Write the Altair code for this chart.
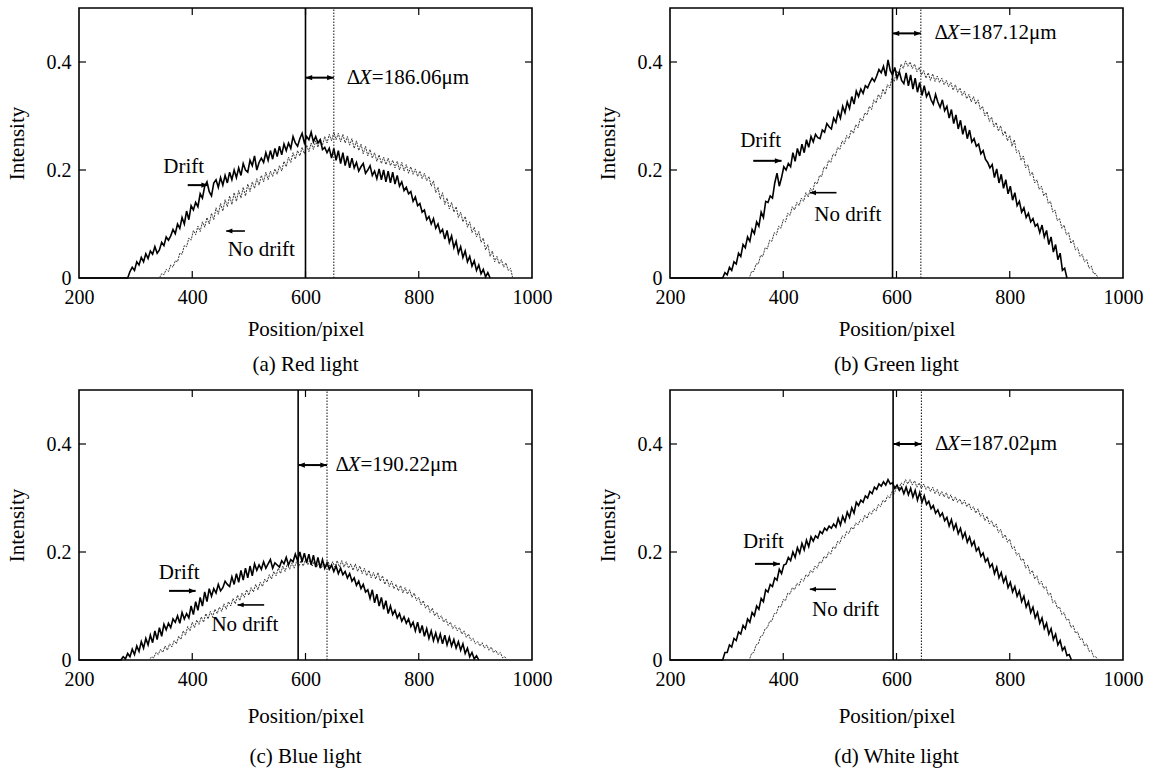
import altair as alt
import pandas as pd

FONT = "Liberation Serif"
STEP = 4

# ---------------- (a) Red light ----------------
DRIFT_A_START = 286
DRIFT_A = [0, 0.012, 0.02, 0.014, 0.03, 0.024, 0.038, 0.03, 0.045, 0.036,
           0.05, 0.044, 0.058, 0.046, 0.052, 0.066, 0.06, 0.076, 0.07, 0.078,
           0.09, 0.082, 0.1, 0.092, 0.112, 0.1, 0.124, 0.108, 0.134, 0.126,
           0.14, 0.132, 0.156, 0.148, 0.17, 0.178, 0.16, 0.152, 0.176, 0.182,
           0.168, 0.186, 0.172, 0.19, 0.176, 0.196, 0.182, 0.2, 0.186, 0.204,
           0.19, 0.212, 0.2, 0.196, 0.218, 0.208, 0.226, 0.2, 0.214, 0.222,
           0.214, 0.232, 0.218, 0.236, 0.22, 0.24, 0.225, 0.244, 0.228, 0.248,
           0.236, 0.25, 0.24, 0.262, 0.25, 0.244, 0.258, 0.268, 0.25, 0.262,
           0.256, 0.27, 0.252, 0.262, 0.25, 0.256, 0.238, 0.242, 0.232, 0.24,
           0.222, 0.24, 0.218, 0.236, 0.212, 0.232, 0.208, 0.226, 0.204, 0.222,
           0.204, 0.214, 0.198, 0.206, 0.212, 0.194, 0.2, 0.208, 0.19, 0.198,
           0.184, 0.202, 0.182, 0.2, 0.178, 0.198, 0.176, 0.196, 0.174, 0.19,
           0.17, 0.178, 0.162, 0.168, 0.156, 0.16, 0.142, 0.15, 0.134, 0.138,
           0.122, 0.126, 0.108, 0.114, 0.1, 0.11, 0.092, 0.1, 0.084, 0.09,
           0.072, 0.088, 0.066, 0.078, 0.056, 0.068, 0.046, 0.058, 0.038, 0.05,
           0.03, 0.04, 0.022, 0.032, 0.014, 0.024, 0.008, 0.016, 0.002, 0.01,
           0]
NODRIFT_A_START = 342
NODRIFT_A = [0, 0.008, 0.006, 0.016, 0.012, 0.024, 0.02, 0.032, 0.03, 0.046,
             0.044, 0.06, 0.058, 0.074, 0.07, 0.088, 0.08, 0.096, 0.086, 0.104,
             0.094, 0.112, 0.1, 0.12, 0.108, 0.13, 0.118, 0.138, 0.124, 0.145,
             0.132, 0.152, 0.136, 0.158, 0.142, 0.162, 0.148, 0.168, 0.152, 0.174,
             0.16, 0.178, 0.166, 0.184, 0.172, 0.19, 0.178, 0.196, 0.182, 0.198,
             0.188, 0.202, 0.192, 0.208, 0.198, 0.216, 0.206, 0.224, 0.214, 0.232,
             0.22, 0.236, 0.226, 0.242, 0.23, 0.246, 0.234, 0.25, 0.238, 0.254,
             0.242, 0.258, 0.246, 0.262, 0.25, 0.266, 0.254, 0.27, 0.256, 0.268,
             0.252, 0.266, 0.25, 0.262, 0.246, 0.258, 0.24, 0.254, 0.236, 0.248,
             0.23, 0.244, 0.226, 0.238, 0.222, 0.232, 0.216, 0.228, 0.212, 0.224,
             0.21, 0.222, 0.208, 0.218, 0.204, 0.216, 0.2, 0.214, 0.198, 0.21,
             0.194, 0.206, 0.192, 0.202, 0.188, 0.198, 0.184, 0.194, 0.18, 0.188,
             0.17, 0.18, 0.158, 0.168, 0.146, 0.158, 0.136, 0.148, 0.128, 0.14,
             0.122, 0.132, 0.112, 0.122, 0.104, 0.114, 0.094, 0.104, 0.084, 0.094,
             0.076, 0.086, 0.066, 0.074, 0.052, 0.062, 0.04, 0.05, 0.03, 0.04,
             0.026, 0.034, 0.02, 0.028, 0.014, 0.018, 0]

# ---------------- (b) Green light ----------------
DRIFT_B_START = 293
DRIFT_B = [0, 0.01, 0.006, 0.02, 0.014, 0.03, 0.026, 0.046, 0.04, 0.062,
           0.056, 0.076, 0.068, 0.09, 0.082, 0.104, 0.096, 0.122, 0.112, 0.142,
           0.14, 0.152, 0.148, 0.176, 0.194, 0.17, 0.186, 0.206, 0.2, 0.212,
           0.206, 0.232, 0.216, 0.24, 0.226, 0.248, 0.232, 0.256, 0.242, 0.262,
           0.252, 0.266, 0.26, 0.258, 0.274, 0.27, 0.286, 0.28, 0.276, 0.296,
           0.288, 0.308, 0.296, 0.318, 0.306, 0.326, 0.314, 0.336, 0.322, 0.346,
           0.336, 0.35, 0.342, 0.356, 0.352, 0.362, 0.37, 0.364, 0.374, 0.386,
           0.38, 0.392, 0.374, 0.404, 0.384, 0.376, 0.39, 0.37, 0.382, 0.366,
           0.36, 0.38, 0.356, 0.376, 0.35, 0.37, 0.344, 0.362, 0.338, 0.356,
           0.336, 0.344, 0.33, 0.322, 0.34, 0.326, 0.316, 0.33, 0.31, 0.318,
           0.296, 0.312, 0.286, 0.302, 0.276, 0.292, 0.266, 0.282, 0.258, 0.274,
           0.252, 0.258, 0.244, 0.248, 0.23, 0.236, 0.22, 0.214, 0.204, 0.21,
           0.186, 0.202, 0.176, 0.192, 0.166, 0.182, 0.156, 0.17, 0.144, 0.158,
           0.134, 0.142, 0.122, 0.13, 0.112, 0.12, 0.104, 0.11, 0.096, 0.1,
           0.084, 0.098, 0.076, 0.088, 0.062, 0.076, 0.048, 0.062, 0.034, 0.046,
           0.014, 0.018, 0]
NODRIFT_B_START = 340
NODRIFT_B = [0, 0.012, 0.012, 0.026, 0.026, 0.042, 0.04, 0.056, 0.054, 0.07,
             0.068, 0.084, 0.08, 0.096, 0.092, 0.108, 0.104, 0.12, 0.116, 0.132,
             0.126, 0.14, 0.134, 0.148, 0.142, 0.158, 0.15, 0.166, 0.16, 0.178,
             0.174, 0.19, 0.188, 0.206, 0.202, 0.218, 0.214, 0.23, 0.226, 0.242,
             0.238, 0.254, 0.248, 0.264, 0.258, 0.274, 0.268, 0.284, 0.278, 0.296,
             0.29, 0.306, 0.302, 0.318, 0.312, 0.33, 0.324, 0.34, 0.332, 0.35,
             0.34, 0.358, 0.352, 0.37, 0.364, 0.384, 0.376, 0.396, 0.388, 0.402,
             0.392, 0.4, 0.388, 0.396, 0.382, 0.39, 0.376, 0.384, 0.37, 0.38,
             0.366, 0.378, 0.364, 0.374, 0.362, 0.37, 0.358, 0.366, 0.354, 0.362,
             0.348, 0.358, 0.344, 0.352, 0.338, 0.346, 0.332, 0.34, 0.326, 0.336,
             0.322, 0.33, 0.312, 0.318, 0.3, 0.308, 0.29, 0.298, 0.28, 0.288,
             0.272, 0.282, 0.264, 0.272, 0.254, 0.264, 0.244, 0.256, 0.232, 0.236,
             0.218, 0.226, 0.204, 0.21, 0.19, 0.196, 0.176, 0.182, 0.164, 0.17,
             0.152, 0.158, 0.138, 0.142, 0.122, 0.126, 0.106, 0.11, 0.092, 0.098,
             0.08, 0.084, 0.064, 0.07, 0.052, 0.056, 0.04, 0.044, 0.03, 0.034,
             0.018, 0.022, 0.008, 0.008, 0]

# ---------------- (c) Blue light ----------------
DRIFT_C_START = 274
DRIFT_C = [0, 0.006, 0.002, 0.012, 0.006, 0.02, 0.01, 0.026, 0.016, 0.034,
           0.022, 0.04, 0.028, 0.046, 0.032, 0.054, 0.038, 0.06, 0.044, 0.066,
           0.056, 0.068, 0.06, 0.076, 0.07, 0.082, 0.068, 0.088, 0.076, 0.086,
           0.078, 0.1, 0.084, 0.108, 0.092, 0.116, 0.1, 0.126, 0.108, 0.132,
           0.118, 0.132, 0.124, 0.14, 0.128, 0.134, 0.146, 0.14, 0.136, 0.154,
           0.14, 0.16, 0.144, 0.166, 0.148, 0.17, 0.152, 0.174, 0.156, 0.178,
           0.166, 0.176, 0.168, 0.182, 0.17, 0.178, 0.186, 0.17, 0.18, 0.176,
           0.172, 0.184, 0.178, 0.19, 0.176, 0.186, 0.182, 0.196, 0.184, 0.2,
           0.182, 0.198, 0.18, 0.196, 0.176, 0.194, 0.172, 0.19, 0.17, 0.186,
           0.17, 0.18, 0.168, 0.176, 0.164, 0.174, 0.16, 0.17, 0.158, 0.164,
           0.152, 0.16, 0.146, 0.152, 0.138, 0.146, 0.132, 0.14, 0.126, 0.13,
           0.114, 0.13, 0.106, 0.122, 0.1, 0.116, 0.094, 0.11, 0.086, 0.1,
           0.084, 0.092, 0.078, 0.086, 0.072, 0.08, 0.068, 0.076, 0.062, 0.07,
           0.054, 0.07, 0.05, 0.064, 0.044, 0.058, 0.04, 0.054, 0.036, 0.05,
           0.034, 0.048, 0.03, 0.046, 0.028, 0.042, 0.026, 0.038, 0.022, 0.034,
           0.018, 0.03, 0.012, 0.022, 0.006, 0.014, 0.002, 0.008, 0]
NODRIFT_C_START = 324
NODRIFT_C = [0, 0.006, 0.004, 0.014, 0.01, 0.02, 0.014, 0.026, 0.018, 0.03,
             0.024, 0.036, 0.03, 0.044, 0.038, 0.054, 0.046, 0.062, 0.054, 0.07,
             0.06, 0.074, 0.066, 0.08, 0.07, 0.086, 0.076, 0.09, 0.08, 0.094,
             0.086, 0.098, 0.09, 0.104, 0.094, 0.108, 0.1, 0.114, 0.104, 0.12,
             0.11, 0.124, 0.116, 0.13, 0.12, 0.134, 0.126, 0.14, 0.13, 0.144,
             0.136, 0.15, 0.144, 0.158, 0.15, 0.164, 0.156, 0.17, 0.16, 0.174,
             0.164, 0.178, 0.168, 0.18, 0.17, 0.182, 0.172, 0.184, 0.174, 0.186,
             0.176, 0.186, 0.174, 0.184, 0.172, 0.182, 0.17, 0.18, 0.17, 0.182,
             0.17, 0.182, 0.172, 0.184, 0.172, 0.184, 0.172, 0.182, 0.17, 0.178,
             0.166, 0.178, 0.164, 0.174, 0.16, 0.17, 0.156, 0.166, 0.152, 0.162,
             0.15, 0.162, 0.146, 0.156, 0.14, 0.15, 0.136, 0.146, 0.132, 0.14,
             0.128, 0.138, 0.124, 0.134, 0.122, 0.13, 0.116, 0.124, 0.11, 0.116,
             0.102, 0.11, 0.096, 0.102, 0.088, 0.096, 0.082, 0.088, 0.076, 0.082,
             0.07, 0.076, 0.064, 0.07, 0.058, 0.064, 0.054, 0.06, 0.048, 0.054,
             0.042, 0.048, 0.036, 0.04, 0.03, 0.034, 0.026, 0.032, 0.022, 0.028,
             0.018, 0.024, 0.014, 0.018, 0.01, 0.014, 0.004, 0.006, 0]

# ---------------- (d) White light ----------------
DRIFT_D_START = 293
DRIFT_D = [0, 0.014, 0.014, 0.028, 0.024, 0.04, 0.036, 0.052, 0.048, 0.064,
           0.058, 0.076, 0.07, 0.088, 0.082, 0.1, 0.094, 0.114, 0.108, 0.13,
           0.126, 0.14, 0.136, 0.152, 0.148, 0.168, 0.16, 0.176, 0.178, 0.19,
           0.184, 0.2, 0.19, 0.208, 0.198, 0.216, 0.204, 0.222, 0.21, 0.228,
           0.22, 0.23, 0.226, 0.238, 0.234, 0.244, 0.24, 0.248, 0.244, 0.252,
           0.246, 0.262, 0.25, 0.266, 0.256, 0.274, 0.264, 0.282, 0.272, 0.292,
           0.286, 0.296, 0.292, 0.304, 0.3, 0.312, 0.308, 0.32, 0.316, 0.326,
           0.322, 0.33, 0.324, 0.334, 0.326, 0.328, 0.318, 0.324, 0.314, 0.32,
           0.308, 0.32, 0.306, 0.318, 0.302, 0.314, 0.296, 0.31, 0.292, 0.304,
           0.288, 0.294, 0.28, 0.286, 0.272, 0.278, 0.266, 0.272, 0.258, 0.264,
           0.248, 0.26, 0.242, 0.252, 0.234, 0.244, 0.226, 0.236, 0.218, 0.228,
           0.212, 0.22, 0.202, 0.208, 0.192, 0.198, 0.182, 0.188, 0.172, 0.178,
           0.16, 0.172, 0.152, 0.162, 0.144, 0.154, 0.134, 0.144, 0.126, 0.136,
           0.118, 0.128, 0.108, 0.118, 0.098, 0.108, 0.088, 0.098, 0.078, 0.088,
           0.068, 0.078, 0.058, 0.068, 0.048, 0.058, 0.038, 0.048, 0.028, 0.036,
           0.018, 0.024, 0.008, 0.01, 0]
NODRIFT_D_START = 340
NODRIFT_D = [0, 0.012, 0.014, 0.028, 0.03, 0.044, 0.046, 0.058, 0.06, 0.072,
             0.072, 0.086, 0.086, 0.1, 0.098, 0.112, 0.11, 0.124, 0.122, 0.134,
             0.13, 0.142, 0.138, 0.15, 0.146, 0.158, 0.154, 0.166, 0.162, 0.174,
             0.17, 0.182, 0.18, 0.192, 0.188, 0.2, 0.196, 0.21, 0.206, 0.22,
             0.216, 0.23, 0.226, 0.238, 0.234, 0.246, 0.242, 0.254, 0.25, 0.26,
             0.256, 0.268, 0.262, 0.274, 0.27, 0.28, 0.276, 0.288, 0.284, 0.296,
             0.292, 0.304, 0.3, 0.312, 0.308, 0.32, 0.316, 0.328, 0.324, 0.334,
             0.326, 0.334, 0.324, 0.332, 0.32, 0.328, 0.318, 0.326, 0.316, 0.322,
             0.312, 0.32, 0.308, 0.316, 0.304, 0.312, 0.302, 0.31, 0.298, 0.306,
             0.294, 0.302, 0.292, 0.298, 0.288, 0.296, 0.284, 0.29, 0.278, 0.284,
             0.272, 0.28, 0.266, 0.272, 0.258, 0.266, 0.252, 0.258, 0.246, 0.252,
             0.236, 0.242, 0.226, 0.232, 0.218, 0.224, 0.206, 0.21, 0.194, 0.198,
             0.184, 0.188, 0.17, 0.176, 0.16, 0.166, 0.15, 0.156, 0.14, 0.146,
             0.132, 0.136, 0.12, 0.124, 0.106, 0.11, 0.096, 0.098, 0.084, 0.088,
             0.074, 0.076, 0.06, 0.064, 0.05, 0.052, 0.038, 0.04, 0.026, 0.03,
             0.016, 0.018, 0.006, 0.006, 0]

# peaks (pixel) of the drift / no-drift profiles
PEAKS_DRIFT = [600, 593, 587, 594]
PEAKS_NODRIFT = [650, 643, 638, 644]
DELTA_TEXT = ["=186.06μm", "=187.12μm", "=190.22μm", "=187.02μm"]
DELTA_POS = [(673, 0.371), (667, 0.453), (653, 0.361), (668, 0.400)]
DRIFT_LABEL = [(385, 0.206), (360, 0.253), (377, 0.162), (365, 0.219)]
DRIFT_ARROW = [(392, 428, 0.172), (347, 397, 0.217), (359, 406, 0.128), (350, 394, 0.178)]
NODRIFT_LABEL = [(522, 0.051), (514, 0.116), (493, 0.064), (510, 0.093)]
NODRIFT_ARROW = [(493, 460, 0.087), (494, 447, 0.158), (527, 480, 0.102), (493, 447, 0.131)]
SUBTITLES = ["(a) Red light", "(b) Green light", "(c) Blue light", "(d) White light"]

X_TICKS = [200, 400, 600, 800, 1000]
Y_TICKS = [0, 0.2, 0.4]
INNER_X = [400, 600, 800]
INNER_Y = [0.2, 0.4]

W, H = 453, 270
TICK = 7
RIGHT_HEAD = "M0,0L-1,-0.4L-1,0.4Z"
LEFT_HEAD = "M0,0L1,-0.4L1,0.4Z"


def profile(start, vals):
    xs = [200] + [start + STEP * i for i in range(len(vals))]
    ys = [0.0] + list(vals)
    return pd.DataFrame({"x": xs, "y": ys})


def make_panel(i, drift_start, drift, nd_start, nd, xtitle_pad, sub_offset):
    xs = alt.Scale(domain=[200, 1000], nice=False, zero=False)
    ys = alt.Scale(domain=[0, 0.5], nice=False)
    xax = alt.Axis(values=X_TICKS, title="Position/pixel", labelFlush=False, labelPadding=9,
                   titlePadding=xtitle_pad, format="d")
    yax = alt.Axis(values=Y_TICKS, title="Intensity", labelPadding=8, titlePadding=19,
                   labelExpr="datum.value == 0 ? '0' : format(datum.value, '.1f')")
    X = alt.X("x:Q", scale=xs, axis=xax)
    Y = alt.Y("y:Q", scale=ys, axis=yax)

    layers = []
    layers.append(alt.Chart(profile(nd_start, nd)).mark_line(
        color="#3a3a3a", strokeWidth=1.0, strokeDash=[2, 1]).encode(x=X, y=Y))
    layers.append(alt.Chart(profile(drift_start, drift)).mark_line(
        color="black", strokeWidth=1.6).encode(x=X, y=Y))

    pd_, pn = PEAKS_DRIFT[i], PEAKS_NODRIFT[i]
    vl = pd.DataFrame({"x": [pd_], "y": [0.0], "y2": [0.5]})
    layers.append(alt.Chart(vl).mark_rule(color="black", strokeWidth=1.6).encode(x=X, y=Y, y2="y2:Q"))
    vl2 = pd.DataFrame({"x": [pn], "y": [0.0], "y2": [0.5]})
    layers.append(alt.Chart(vl2).mark_rule(color="#222", strokeWidth=1.1, strokeDash=[1.5, 1.5]).encode(
        x=X, y=Y, y2="y2:Q"))

    # double-headed arrow between peaks
    tx, ty = DELTA_POS[i]
    da = pd.DataFrame({"x": [pd_], "x2": [pn], "y": [ty]})
    layers.append(alt.Chart(da).mark_rule(color="black", strokeWidth=2).encode(x=X, x2="x2:Q", y=Y))
    layers.append(alt.Chart(pd.DataFrame({"x": [pd_], "y": [ty]})).mark_point(
        shape=LEFT_HEAD, filled=True, color="black", size=180, opacity=1, strokeWidth=0).encode(x=X, y=Y))
    layers.append(alt.Chart(pd.DataFrame({"x": [pn], "y": [ty]})).mark_point(
        shape=RIGHT_HEAD, filled=True, color="black", size=180, opacity=1, strokeWidth=0).encode(x=X, y=Y))

    tdf = pd.DataFrame({"x": [tx], "y": [ty]})
    layers.append(alt.Chart(tdf).mark_text(text="Δ", align="left", baseline="middle", font=FONT,
                                           fontSize=21, color="black").encode(x=X, y=Y))
    layers.append(alt.Chart(tdf).mark_text(text="X", align="left", baseline="middle", font=FONT,
                                           fontSize=21, fontStyle="italic", dx=12, color="black").encode(x=X, y=Y))
    layers.append(alt.Chart(tdf).mark_text(text=DELTA_TEXT[i], align="left", baseline="middle", font=FONT,
                                           fontSize=21, dx=25, color="black").encode(x=X, y=Y))

    # Drift label and arrow
    lx, ly = DRIFT_LABEL[i]
    layers.append(alt.Chart(pd.DataFrame({"x": [lx], "y": [ly]})).mark_text(
        text="Drift", align="center", baseline="middle", font=FONT, fontSize=21, color="black").encode(x=X, y=Y))
    a0, a1, ay = DRIFT_ARROW[i]
    layers.append(alt.Chart(pd.DataFrame({"x": [a0], "x2": [a1], "y": [ay]})).mark_rule(
        color="black", strokeWidth=2).encode(x=X, x2="x2:Q", y=Y))
    layers.append(alt.Chart(pd.DataFrame({"x": [a1], "y": [ay]})).mark_point(
        shape=RIGHT_HEAD, filled=True, color="black", size=180, opacity=1, strokeWidth=0).encode(x=X, y=Y))

    # No drift label and arrow
    nx, ny = NODRIFT_LABEL[i]
    layers.append(alt.Chart(pd.DataFrame({"x": [nx], "y": [ny]})).mark_text(
        text="No drift", align="center", baseline="middle", font=FONT, fontSize=21, color="black").encode(x=X, y=Y))
    b0, b1, by = NODRIFT_ARROW[i]
    layers.append(alt.Chart(pd.DataFrame({"x": [b0], "x2": [b1], "y": [by]})).mark_rule(
        color="black", strokeWidth=1.6).encode(x=X, x2="x2:Q", y=Y))
    layers.append(alt.Chart(pd.DataFrame({"x": [b1], "y": [by]})).mark_point(
        shape=LEFT_HEAD, filled=True, color="black", size=150, opacity=1, strokeWidth=0).encode(x=X, y=Y))

    # inward ticks on all four sides
    txd = pd.DataFrame({"x": INNER_X})
    tyd = pd.DataFrame({"y": INNER_Y})
    layers.append(alt.Chart(txd).mark_rule(color="black", strokeWidth=1.2).encode(
        x=X, y=alt.value(H), y2=alt.value(H - TICK)))
    layers.append(alt.Chart(txd).mark_rule(color="black", strokeWidth=1.2).encode(
        x=X, y=alt.value(0), y2=alt.value(TICK)))
    layers.append(alt.Chart(tyd).mark_rule(color="black", strokeWidth=1.2).encode(
        y=Y, x=alt.value(0), x2=alt.value(TICK)))
    layers.append(alt.Chart(tyd).mark_rule(color="black", strokeWidth=1.2).encode(
        y=Y, x=alt.value(W), x2=alt.value(W - TICK)))

    return alt.layer(*layers).properties(
        width=W, height=H,
        title=alt.TitleParams(text=SUBTITLES[i], orient="bottom", frame="group", anchor="middle",
                              offset=sub_offset, font=FONT, fontSize=21, fontWeight="normal", color="black"),
    )


pa = make_panel(0, DRIFT_A_START, DRIFT_A, NODRIFT_A_START, NODRIFT_A, 11, 15)
pb = make_panel(1, DRIFT_B_START, DRIFT_B, NODRIFT_B_START, NODRIFT_B, 11, 15)
pc = make_panel(2, DRIFT_C_START, DRIFT_C, NODRIFT_C_START, NODRIFT_C, 16, 20)
pdn = make_panel(3, DRIFT_D_START, DRIFT_D, NODRIFT_D_START, NODRIFT_D, 16, 20)

chart = alt.vconcat(
    alt.hconcat(pa, pb, spacing=43),
    alt.hconcat(pc, pdn, spacing=43),
    spacing=12,
).properties(
    padding={"left": 5, "top": 6, "right": 5, "bottom": 5},
    background="white",
).configure_view(
    stroke="black", strokeWidth=1.6
).configure_axis(
    labelFont=FONT, titleFont=FONT, labelFontSize=20, titleFontSize=21, titleFontWeight="normal",
    labelColor="black", titleColor="black", ticks=False, domain=False, grid=False,
)

chart.save("out.html", embed_options={"renderer": "svg", "actions": False})
